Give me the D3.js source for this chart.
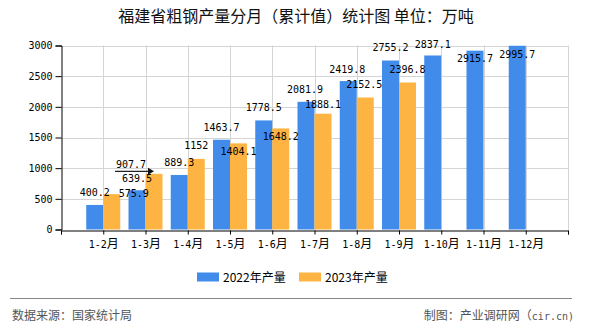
<!DOCTYPE html>
<html><head><meta charset="utf-8">
<script src="https://cdn.jsdelivr.net/npm/d3@7"></script>
<style>
html,body{margin:0;padding:0;background:#fff;}
svg{display:block;}
</style></head>
<body>
<script>
const categories = ["1-2月","1-3月","1-4月","1-5月","1-6月","1-7月","1-8月","1-9月","1-10月","1-11月","1-12月"];
const values2022 = [400.2, 639.5, 889.3, 1463.7, 1778.5, 2081.9, 2419.8, 2755.2, 2837.1, 2915.7, 2995.7];
const values2023 = [575.9, 907.7, 1152, 1404.1, 1648.2, 1888.1, 2152.5, 2396.8];
const yTicks = [0, 500, 1000, 1500, 2000, 2500, 3000];
const seriesNames = ["2022年产量", "2023年产量"];
const title = "福建省粗钢产量分月（累计值）统计图 单位：万吨";
const sourceText = "数据来源：国家统计局";
const creditCJK = "制图：产业调研网（";
const creditLatin = "cir.cn)";

// label placement nudges [dx, dy-from-bar-top, leader]
const nudge2022 = [[0,-9],[0,-8],[0,-9],[0,-9],[0,-9],[-1,-9],[-1,-8],[0,-10],[0,-7],[0,11],[0,12]];
const nudge2023 = [[22,3],[-23,-6,1],[0,-10],[0,12],[0,12],[0,-6],[-1,-9],[0,-9]];

const W = 590, H = 330;
const colors = ["#418CEB", "#FDB443"];
const svg = d3.select("body").append("svg").attr("width", W).attr("height", H);

const x = d3.scaleLinear().domain([0, 12]).range([61, 568]);
const y = d3.scaleLinear().domain([0, 3000]).range([229.5, 45.5]);
const barW = 17;
const cjkFont = "'Noto Sans CJK SC', sans-serif";
const monoFont = "'DejaVu Sans Mono', monospace";

// title
svg.append("text").attr("x", 296).attr("y", 22).attr("text-anchor", "middle")
  .attr("font-family", cjkFont).attr("font-size", 16).attr("fill", "#111")
  .text(title);

// gridlines
const grid = svg.append("g").attr("stroke", "#d4d4d4").attr("stroke-width", 1);
grid.selectAll("line.h").data(yTicks.filter(d => d > 0)).join("line")
  .attr("x1", x(0)).attr("x2", x(12))
  .attr("y1", d => Math.round(y(d)) + 0.5).attr("y2", d => Math.round(y(d)) + 0.5);
grid.selectAll("line.v").data(d3.range(1, 13)).join("line")
  .attr("y1", y(3000)).attr("y2", y(0))
  .attr("x1", d => Math.round(x(d)) + 0.5).attr("x2", d => Math.round(x(d)) + 0.5);

// bars
const g2022 = svg.append("g").attr("fill", colors[0]);
g2022.selectAll("rect").data(values2022).join("rect")
  .attr("x", (d, i) => x(i + 1) - barW).attr("width", barW)
  .attr("y", d => y(d)).attr("height", d => y(0) - y(d));
const g2023 = svg.append("g").attr("fill", colors[1]);
g2023.selectAll("rect").data(values2023).join("rect")
  .attr("x", (d, i) => x(i + 1)).attr("width", barW)
  .attr("y", d => y(d)).attr("height", d => y(0) - y(d));

// axes
const yAxis = svg.append("g").attr("transform", `translate(${x(0) + 0.5},0)`)
  .call(d3.axisLeft(y).tickValues(yTicks).tickSize(6).tickPadding(3).tickFormat(d3.format("d")));
yAxis.selectAll("text").attr("font-family", monoFont).attr("font-size", 10).attr("fill", "#000");
yAxis.selectAll("line,path").attr("stroke", "#000");

const xAxis = svg.append("g").attr("transform", `translate(0,${Math.round(y(0)) + 0.5})`)
  .call(d3.axisBottom(x).tickValues(d3.range(0, 13)).tickSize(4).tickPadding(6)
    .tickFormat(d => (d >= 1 && d <= 11) ? categories[d - 1] : ""));
xAxis.selectAll("line,path").attr("stroke", "#000");
xAxis.selectAll("text").attr("fill", "#000").each(function(d) {
  const t = d3.select(this);
  const s = (d >= 1 && d <= 11) ? categories[d - 1] : "";
  t.text(null);
  if (!s) return;
  t.append("tspan").attr("font-family", monoFont).attr("font-size", 10).text(s.replace("月", ""));
  t.append("tspan").attr("font-family", cjkFont).attr("font-size", 12).text("月");
});

// value labels
function addLabels(vals, nudges, offset) {
  vals.forEach((v, i) => {
    const cx = x(i + 1) + offset;
    const n = nudges[i];
    const lx = cx + n[0], ly = y(v) + n[1];
    svg.append("text").attr("x", lx).attr("y", ly).attr("text-anchor", "middle")
      .attr("font-family", monoFont).attr("font-size", 10).attr("fill", "#000")
      .text(d3.format("")(v));
    if (n[2]) {
      const x1 = lx - 16, x2 = cx, yy = ly + 3.5;
      svg.append("line").attr("x1", x1).attr("x2", x2 - 4).attr("y1", yy).attr("y2", yy)
        .attr("stroke", "#222").attr("stroke-width", 1.2);
      svg.append("path").attr("d", `M${x2 - 6},${yy - 3.5}L${x2},${yy}L${x2 - 6},${yy + 3.5}Z`).attr("fill", "#111");
    }
  });
}
addLabels(values2022, nudge2022, -barW / 2);
addLabels(values2023, nudge2023, barW / 2);

// legend
const legend = svg.append("g");
const legX = [197, 299];
seriesNames.forEach((name, i) => {
  legend.append("rect").attr("x", legX[i]).attr("y", 272.5).attr("width", 22).attr("height", 9).attr("fill", colors[i]);
  legend.append("text").attr("x", legX[i] + 26).attr("y", 281.5)
    .attr("font-family", cjkFont).attr("font-size", 12).attr("fill", "#000")
    .text(name);
});

// footer
svg.append("line").attr("x1", 10).attr("x2", 572).attr("y1", 298.5).attr("y2", 298.5)
  .attr("stroke", "#888").attr("stroke-width", 1);
svg.append("text").attr("x", 12).attr("y", 320)
  .attr("font-family", cjkFont).attr("font-size", 12).attr("fill", "#555")
  .text(sourceText);
const credit = svg.append("text").attr("x", 574).attr("y", 320).attr("text-anchor", "end").attr("fill", "#555");
credit.append("tspan").attr("font-family", cjkFont).attr("font-size", 12).text(creditCJK);
credit.append("tspan").attr("font-family", monoFont).attr("font-size", 10).text(creditLatin);
</script>
</body></html>
